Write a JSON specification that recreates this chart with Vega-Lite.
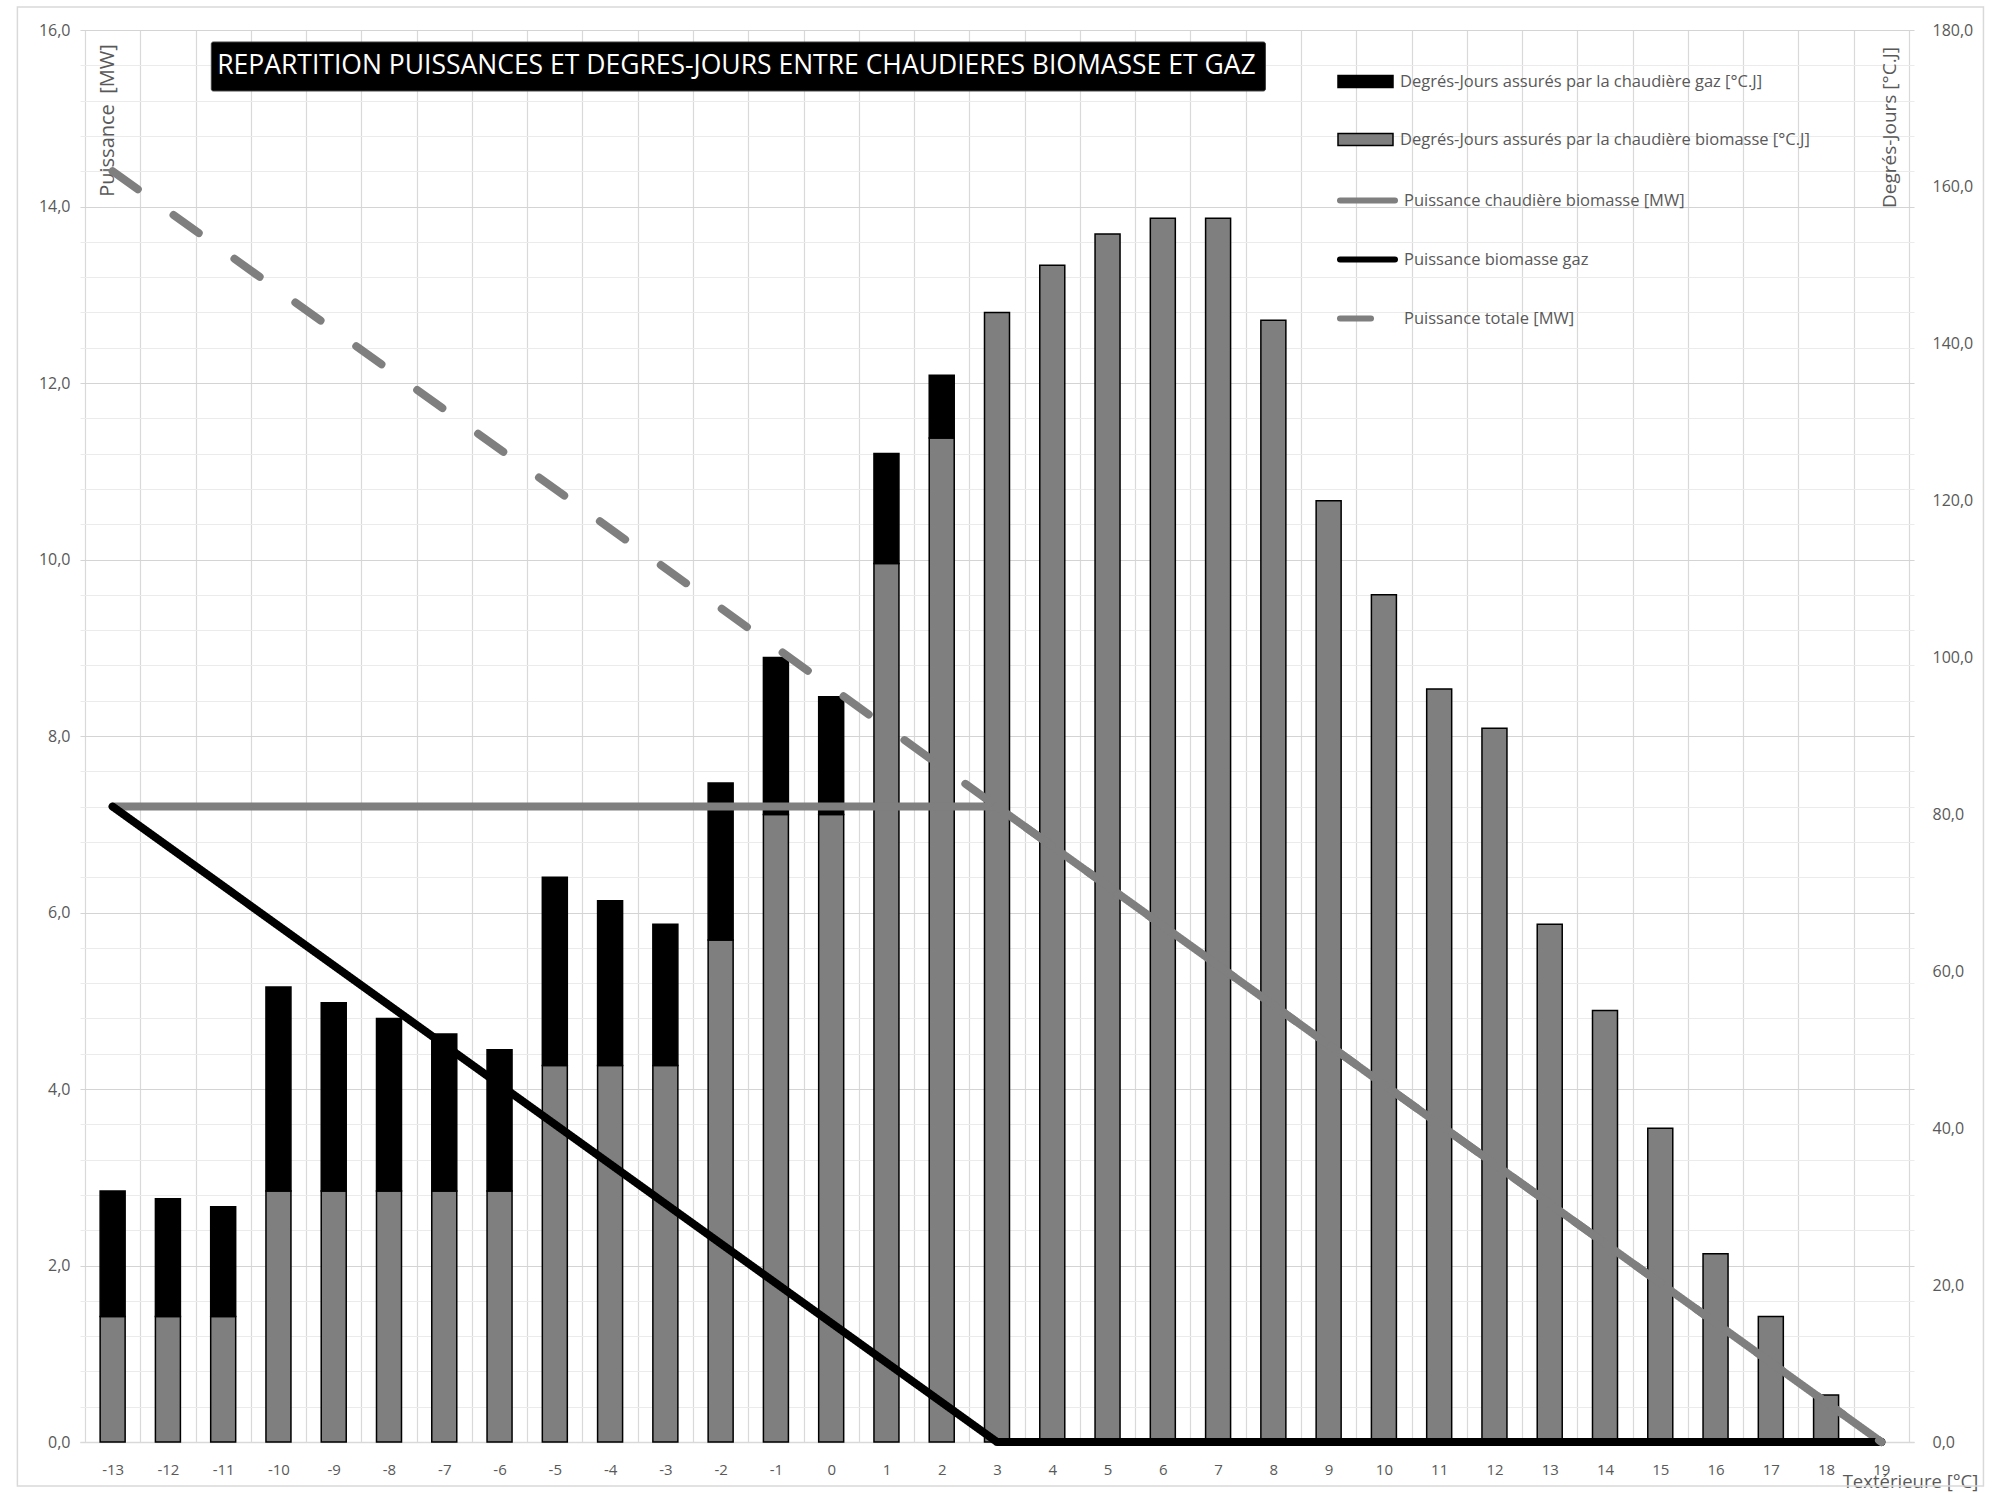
{
  "$schema": "https://vega.github.io/schema/vega-lite/v6.json",
  "width": 1834,
  "height": 1412,
  "autosize": {"type": "none"},
  "padding": {"left": 80, "top": 30, "right": 78, "bottom": 51},
  "background": "white",
  "config": {
    "view": {"stroke": null},
    "font": "Open Sans",
    "axis": {"labelFont": "Open Sans", "titleFont": "Open Sans", "labelColor": "#595959", "titleColor": "#595959", "titleFontWeight": "normal"},
    "legend": {"labelFont": "Open Sans"}
  },
  "datasets": {
    "barres": [
      {"t": -13, "serie": "Degrés-Jours assurés par la chaudière biomasse [°C.J]", "dj": 16},
      {"t": -13, "serie": "Degrés-Jours assurés par la chaudière gaz [°C.J]", "dj": 16},
      {"t": -12, "serie": "Degrés-Jours assurés par la chaudière biomasse [°C.J]", "dj": 16},
      {"t": -12, "serie": "Degrés-Jours assurés par la chaudière gaz [°C.J]", "dj": 15},
      {"t": -11, "serie": "Degrés-Jours assurés par la chaudière biomasse [°C.J]", "dj": 16},
      {"t": -11, "serie": "Degrés-Jours assurés par la chaudière gaz [°C.J]", "dj": 14},
      {"t": -10, "serie": "Degrés-Jours assurés par la chaudière biomasse [°C.J]", "dj": 32},
      {"t": -10, "serie": "Degrés-Jours assurés par la chaudière gaz [°C.J]", "dj": 26},
      {"t": -9, "serie": "Degrés-Jours assurés par la chaudière biomasse [°C.J]", "dj": 32},
      {"t": -9, "serie": "Degrés-Jours assurés par la chaudière gaz [°C.J]", "dj": 24},
      {"t": -8, "serie": "Degrés-Jours assurés par la chaudière biomasse [°C.J]", "dj": 32},
      {"t": -8, "serie": "Degrés-Jours assurés par la chaudière gaz [°C.J]", "dj": 22},
      {"t": -7, "serie": "Degrés-Jours assurés par la chaudière biomasse [°C.J]", "dj": 32},
      {"t": -7, "serie": "Degrés-Jours assurés par la chaudière gaz [°C.J]", "dj": 20},
      {"t": -6, "serie": "Degrés-Jours assurés par la chaudière biomasse [°C.J]", "dj": 32},
      {"t": -6, "serie": "Degrés-Jours assurés par la chaudière gaz [°C.J]", "dj": 18},
      {"t": -5, "serie": "Degrés-Jours assurés par la chaudière biomasse [°C.J]", "dj": 48},
      {"t": -5, "serie": "Degrés-Jours assurés par la chaudière gaz [°C.J]", "dj": 24},
      {"t": -4, "serie": "Degrés-Jours assurés par la chaudière biomasse [°C.J]", "dj": 48},
      {"t": -4, "serie": "Degrés-Jours assurés par la chaudière gaz [°C.J]", "dj": 21},
      {"t": -3, "serie": "Degrés-Jours assurés par la chaudière biomasse [°C.J]", "dj": 48},
      {"t": -3, "serie": "Degrés-Jours assurés par la chaudière gaz [°C.J]", "dj": 18},
      {"t": -2, "serie": "Degrés-Jours assurés par la chaudière biomasse [°C.J]", "dj": 64},
      {"t": -2, "serie": "Degrés-Jours assurés par la chaudière gaz [°C.J]", "dj": 20},
      {"t": -1, "serie": "Degrés-Jours assurés par la chaudière biomasse [°C.J]", "dj": 80},
      {"t": -1, "serie": "Degrés-Jours assurés par la chaudière gaz [°C.J]", "dj": 20},
      {"t": 0, "serie": "Degrés-Jours assurés par la chaudière biomasse [°C.J]", "dj": 80},
      {"t": 0, "serie": "Degrés-Jours assurés par la chaudière gaz [°C.J]", "dj": 15},
      {"t": 1, "serie": "Degrés-Jours assurés par la chaudière biomasse [°C.J]", "dj": 112},
      {"t": 1, "serie": "Degrés-Jours assurés par la chaudière gaz [°C.J]", "dj": 14},
      {"t": 2, "serie": "Degrés-Jours assurés par la chaudière biomasse [°C.J]", "dj": 128},
      {"t": 2, "serie": "Degrés-Jours assurés par la chaudière gaz [°C.J]", "dj": 8},
      {"t": 3, "serie": "Degrés-Jours assurés par la chaudière biomasse [°C.J]", "dj": 144},
      {"t": 4, "serie": "Degrés-Jours assurés par la chaudière biomasse [°C.J]", "dj": 150},
      {"t": 5, "serie": "Degrés-Jours assurés par la chaudière biomasse [°C.J]", "dj": 154},
      {"t": 6, "serie": "Degrés-Jours assurés par la chaudière biomasse [°C.J]", "dj": 156},
      {"t": 7, "serie": "Degrés-Jours assurés par la chaudière biomasse [°C.J]", "dj": 156},
      {"t": 8, "serie": "Degrés-Jours assurés par la chaudière biomasse [°C.J]", "dj": 143},
      {"t": 9, "serie": "Degrés-Jours assurés par la chaudière biomasse [°C.J]", "dj": 120},
      {"t": 10, "serie": "Degrés-Jours assurés par la chaudière biomasse [°C.J]", "dj": 108},
      {"t": 11, "serie": "Degrés-Jours assurés par la chaudière biomasse [°C.J]", "dj": 96},
      {"t": 12, "serie": "Degrés-Jours assurés par la chaudière biomasse [°C.J]", "dj": 91},
      {"t": 13, "serie": "Degrés-Jours assurés par la chaudière biomasse [°C.J]", "dj": 66},
      {"t": 14, "serie": "Degrés-Jours assurés par la chaudière biomasse [°C.J]", "dj": 55},
      {"t": 15, "serie": "Degrés-Jours assurés par la chaudière biomasse [°C.J]", "dj": 40},
      {"t": 16, "serie": "Degrés-Jours assurés par la chaudière biomasse [°C.J]", "dj": 24},
      {"t": 17, "serie": "Degrés-Jours assurés par la chaudière biomasse [°C.J]", "dj": 16},
      {"t": 18, "serie": "Degrés-Jours assurés par la chaudière biomasse [°C.J]", "dj": 6}
    ],
    "lignes": [
      {"t": -13, "serie": "Puissance chaudière biomasse [MW]", "p": 7.2},
      {"t": 3, "serie": "Puissance chaudière biomasse [MW]", "p": 7.2},
      {"t": 19, "serie": "Puissance chaudière biomasse [MW]", "p": 0},
      {"t": -13, "serie": "Puissance biomasse gaz", "p": 7.2},
      {"t": 3, "serie": "Puissance biomasse gaz", "p": 0},
      {"t": 19, "serie": "Puissance biomasse gaz", "p": 0},
      {"t": -13, "serie": "Puissance totale [MW]", "p": 14.4},
      {"t": 19, "serie": "Puissance totale [MW]", "p": 0}
    ]
  },
  "layer": [
    {
      "data": {"name": "barres"},
      "mark": {"type": "bar", "size": 25, "stroke": "#000000", "strokeWidth": 1.5},
      "encoding": {
        "x": {
          "field": "t", "type": "quantitative",
          "scale": {"domain": [-13.5, 19.5], "nice": false, "zero": false},
          "axis": {
            "values": [-13.5,-13,-12.5,-12,-11.5,-11,-10.5,-10,-9.5,-9,-8.5,-8,-7.5,-7,-6.5,-6,-5.5,-5,-4.5,-4,-3.5,-3,-2.5,-2,-1.5,-1,-0.5,0,0.5,1,1.5,2,2.5,3,3.5,4,4.5,5,5.5,6,6.5,7,7.5,8,8.5,9,9.5,10,10.5,11,11.5,12,12.5,13,13.5,14,14.5,15,15.5,16,16.5,17,17.5,18,18.5,19,19.5],
            "labelExpr": "datum.value % 1 === 0 ? '' + datum.value : ''",
            "grid": true, "gridColor": "#d9d9d9", "gridWidth": 1.2,
            "gridOpacity": {"condition": {"test": "datum.value % 1 === 0", "value": 0}, "value": 1},
            "ticks": false, "domain": true, "domainColor": "#d9d9d9", "domainWidth": 1.5,
            "labelFontSize": 15, "labelPadding": 20, "labelFlush": false, "labelOverlap": false,
            "title": "Textérieure [°C]", "titleFontSize": 18.5, "titleX": 1830, "titleY": 39,
            "titleAlign": "center", "titleBaseline": "middle"
          }
        },
        "y": {
          "field": "dj", "type": "quantitative", "stack": "zero",
          "scale": {"domain": [0, 180], "nice": false},
          "axis": {
            "orient": "right",
            "values": [0, 20, 40, 60, 80, 100, 120, 140, 160, 180],
            "labelExpr": "replace(format(datum.value, '.1f'), '.', ',')",
            "grid": false, "ticks": false, "domain": false,
            "labelFontSize": 16, "labelPadding": 18, "labelAlign": "left",
            "title": "Degrés-Jours [°C.J]", "titleFontSize": 19, "titleAngle": -90,
            "titleX": -25, "titleY": 97, "titleAlign": "center", "titleBaseline": "middle"
          }
        },
        "fill": {
          "field": "serie", "type": "nominal",
          "scale": {
            "domain": ["Degrés-Jours assurés par la chaudière gaz [°C.J]", "Degrés-Jours assurés par la chaudière biomasse [°C.J]"],
            "range": ["#000000", "#7f7f7f"]
          },
          "legend": {
            "orient": "none", "legendX": 1257, "legendY": 23, "title": null, "padding": 0,
            "symbolType": "M-1,-0.22H1V0.22H-1Z", "symbolSize": 3025,
            "symbolStrokeColor": "#000000", "symbolStrokeWidth": 1.5, "symbolOpacity": 1,
            "labelFontSize": 16.5, "labelColor": "#595959", "labelOffset": 6, "rowPadding": 20, "labelLimit": 600
          }
        },
        "order": {"field": "serie", "sort": "ascending"}
      }
    },
    {
      "layer": [
        {
          "data": {"values": [{}]},
          "mark": {"type": "rect", "fill": null, "fillOpacity": 0, "stroke": "#d9d9d9", "strokeWidth": 1.5},
          "encoding": {
            "x": {
              "datum": -14.723, "type": "quantitative",
              "scale": {"domain": [-13.5, 19.5], "nice": false, "zero": false},
              "axis": {
                "values": [-13.5,-13,-12.5,-12,-11.5,-11,-10.5,-10,-9.5,-9,-8.5,-8,-7.5,-7,-6.5,-6,-5.5,-5,-4.5,-4,-3.5,-3,-2.5,-2,-1.5,-1,-0.5,0,0.5,1,1.5,2,2.5,3,3.5,4,4.5,5,5.5,6,6.5,7,7.5,8,8.5,9,9.5,10,10.5,11,11.5,12,12.5,13,13.5,14,14.5,15,15.5,16,16.5,17,17.5,18,18.5,19,19.5],
                "labelExpr": "datum.value % 1 === 0 ? '' + datum.value : ''",
                "grid": true, "gridColor": "#d9d9d9", "gridWidth": 1.2,
                "gridOpacity": {"condition": {"test": "datum.value % 1 === 0", "value": 0}, "value": 1},
                "ticks": false, "domain": true, "domainColor": "#d9d9d9", "domainWidth": 1.5,
                "labelFontSize": 15, "labelPadding": 20, "labelFlush": false, "labelOverlap": false,
                "title": "Textérieure [°C]", "titleFontSize": 18.5, "titleX": 1830, "titleY": 39,
                "titleAlign": "center", "titleBaseline": "middle"
              }
            },
            "x2": {"datum": 20.847},
            "y": {
              "datum": 16.26, "type": "quantitative",
              "scale": {"domain": [0, 16], "nice": false},
              "axis": {
                "orient": "left",
                "values": [0,0.4,0.8,1.2,1.6,2,2.4,2.8,3.2,3.6,4,4.4,4.8,5.2,5.6,6,6.4,6.8,7.2,7.6,8,8.4,8.8,9.2,9.6,10,10.4,10.8,11.2,11.6,12,12.4,12.8,13.2,13.6,14,14.4,14.8,15.2,15.6,16],
                "labelExpr": "abs(datum.value/2 - round(datum.value/2)) < 0.001 ? replace(format(datum.value, '.1f'), '.', ',') : ''",
                "grid": true,
                "gridColor": {"condition": {"test": "abs(datum.value/2 - round(datum.value/2)) < 0.001", "value": "#d4d4d4"}, "value": "#ebebeb"},
                "gridWidth": 1.2, "ticks": false, "domain": false,
                "labelFontSize": 16, "labelPadding": 10, "labelOverlap": false, "labelFlush": false,
                "title": "Puissance\u00a0 [MW]", "titleFontSize": 20, "titleAngle": -90,
                "titleX": 27, "titleY": 90, "titleAlign": "center", "titleBaseline": "middle"
              }
            },
            "y2": {"datum": -0.499}
          }
        },
        {
          "data": {"values": [{}]},
          "mark": {"type": "rect", "fill": "#000000", "stroke": "#404040", "strokeWidth": 1, "cornerRadius": 2},
          "encoding": {
            "x": {
              "datum": -11.215, "type": "quantitative",
              "scale": {"domain": [-13.5, 19.5], "nice": false, "zero": false},
              "axis": {
                "values": [-13.5,-13,-12.5,-12,-11.5,-11,-10.5,-10,-9.5,-9,-8.5,-8,-7.5,-7,-6.5,-6,-5.5,-5,-4.5,-4,-3.5,-3,-2.5,-2,-1.5,-1,-0.5,0,0.5,1,1.5,2,2.5,3,3.5,4,4.5,5,5.5,6,6.5,7,7.5,8,8.5,9,9.5,10,10.5,11,11.5,12,12.5,13,13.5,14,14.5,15,15.5,16,16.5,17,17.5,18,18.5,19,19.5],
                "labelExpr": "datum.value % 1 === 0 ? '' + datum.value : ''",
                "grid": true, "gridColor": "#d9d9d9", "gridWidth": 1.2,
                "gridOpacity": {"condition": {"test": "datum.value % 1 === 0", "value": 0}, "value": 1},
                "ticks": false, "domain": true, "domainColor": "#d9d9d9", "domainWidth": 1.5,
                "labelFontSize": 15, "labelPadding": 20, "labelFlush": false, "labelOverlap": false,
                "title": "Textérieure [°C]", "titleFontSize": 18.5, "titleX": 1830, "titleY": 39,
                "titleAlign": "center", "titleBaseline": "middle"
              }
            },
            "x2": {"datum": 7.857},
            "y": {
              "datum": 15.864, "type": "quantitative",
              "scale": {"domain": [0, 16], "nice": false},
              "axis": {
                "orient": "left",
                "values": [0,0.4,0.8,1.2,1.6,2,2.4,2.8,3.2,3.6,4,4.4,4.8,5.2,5.6,6,6.4,6.8,7.2,7.6,8,8.4,8.8,9.2,9.6,10,10.4,10.8,11.2,11.6,12,12.4,12.8,13.2,13.6,14,14.4,14.8,15.2,15.6,16],
                "labelExpr": "abs(datum.value/2 - round(datum.value/2)) < 0.001 ? replace(format(datum.value, '.1f'), '.', ',') : ''",
                "grid": true,
                "gridColor": {"condition": {"test": "abs(datum.value/2 - round(datum.value/2)) < 0.001", "value": "#d4d4d4"}, "value": "#ebebeb"},
                "gridWidth": 1.2, "ticks": false, "domain": false,
                "labelFontSize": 16, "labelPadding": 10, "labelOverlap": false, "labelFlush": false,
                "title": "Puissance\u00a0 [MW]", "titleFontSize": 20, "titleAngle": -90,
                "titleX": 27, "titleY": 90, "titleAlign": "center", "titleBaseline": "middle"
              }
            },
            "y2": {"datum": 15.309}
          }
        },
        {
          "data": {"values": [{}]},
          "mark": {"type": "text", "text": "REPARTITION PUISSANCES ET DEGRES-JOURS ENTRE CHAUDIERES BIOMASSE ET GAZ", "color": "#ffffff", "font": "Open Sans", "fontSize": 26.5, "align": "center", "baseline": "middle"},
          "encoding": {
            "x": {
              "datum": -1.715, "type": "quantitative",
              "scale": {"domain": [-13.5, 19.5], "nice": false, "zero": false},
              "axis": {
                "values": [-13.5,-13,-12.5,-12,-11.5,-11,-10.5,-10,-9.5,-9,-8.5,-8,-7.5,-7,-6.5,-6,-5.5,-5,-4.5,-4,-3.5,-3,-2.5,-2,-1.5,-1,-0.5,0,0.5,1,1.5,2,2.5,3,3.5,4,4.5,5,5.5,6,6.5,7,7.5,8,8.5,9,9.5,10,10.5,11,11.5,12,12.5,13,13.5,14,14.5,15,15.5,16,16.5,17,17.5,18,18.5,19,19.5],
                "labelExpr": "datum.value % 1 === 0 ? '' + datum.value : ''",
                "grid": true, "gridColor": "#d9d9d9", "gridWidth": 1.2,
                "gridOpacity": {"condition": {"test": "datum.value % 1 === 0", "value": 0}, "value": 1},
                "ticks": false, "domain": true, "domainColor": "#d9d9d9", "domainWidth": 1.5,
                "labelFontSize": 15, "labelPadding": 20, "labelFlush": false, "labelOverlap": false,
                "title": "Textérieure [°C]", "titleFontSize": 18.5, "titleX": 1830, "titleY": 39,
                "titleAlign": "center", "titleBaseline": "middle"
              }
            },
            "y": {
              "datum": 15.587, "type": "quantitative",
              "scale": {"domain": [0, 16], "nice": false},
              "axis": {
                "orient": "left",
                "values": [0,0.4,0.8,1.2,1.6,2,2.4,2.8,3.2,3.6,4,4.4,4.8,5.2,5.6,6,6.4,6.8,7.2,7.6,8,8.4,8.8,9.2,9.6,10,10.4,10.8,11.2,11.6,12,12.4,12.8,13.2,13.6,14,14.4,14.8,15.2,15.6,16],
                "labelExpr": "abs(datum.value/2 - round(datum.value/2)) < 0.001 ? replace(format(datum.value, '.1f'), '.', ',') : ''",
                "grid": true,
                "gridColor": {"condition": {"test": "abs(datum.value/2 - round(datum.value/2)) < 0.001", "value": "#d4d4d4"}, "value": "#ebebeb"},
                "gridWidth": 1.2, "ticks": false, "domain": false,
                "labelFontSize": 16, "labelPadding": 10, "labelOverlap": false, "labelFlush": false,
                "title": "Puissance\u00a0 [MW]", "titleFontSize": 20, "titleAngle": -90,
                "titleX": 27, "titleY": 90, "titleAlign": "center", "titleBaseline": "middle"
              }
            }
          }
        },
        {
          "data": {"name": "lignes"},
          "encoding": {
            "x": {
              "field": "t", "type": "quantitative",
              "scale": {"domain": [-13.5, 19.5], "nice": false, "zero": false},
              "axis": {
                "values": [-13.5,-13,-12.5,-12,-11.5,-11,-10.5,-10,-9.5,-9,-8.5,-8,-7.5,-7,-6.5,-6,-5.5,-5,-4.5,-4,-3.5,-3,-2.5,-2,-1.5,-1,-0.5,0,0.5,1,1.5,2,2.5,3,3.5,4,4.5,5,5.5,6,6.5,7,7.5,8,8.5,9,9.5,10,10.5,11,11.5,12,12.5,13,13.5,14,14.5,15,15.5,16,16.5,17,17.5,18,18.5,19,19.5],
                "labelExpr": "datum.value % 1 === 0 ? '' + datum.value : ''",
                "grid": true, "gridColor": "#d9d9d9", "gridWidth": 1.2,
                "gridOpacity": {"condition": {"test": "datum.value % 1 === 0", "value": 0}, "value": 1},
                "ticks": false, "domain": true, "domainColor": "#d9d9d9", "domainWidth": 1.5,
                "labelFontSize": 15, "labelPadding": 20, "labelFlush": false, "labelOverlap": false,
                "title": "Textérieure [°C]", "titleFontSize": 18.5, "titleX": 1830, "titleY": 39,
                "titleAlign": "center", "titleBaseline": "middle"
              }
            },
            "y": {
              "field": "p", "type": "quantitative",
              "scale": {"domain": [0, 16], "nice": false},
              "axis": {
                "orient": "left",
                "values": [0,0.4,0.8,1.2,1.6,2,2.4,2.8,3.2,3.6,4,4.4,4.8,5.2,5.6,6,6.4,6.8,7.2,7.6,8,8.4,8.8,9.2,9.6,10,10.4,10.8,11.2,11.6,12,12.4,12.8,13.2,13.6,14,14.4,14.8,15.2,15.6,16],
                "labelExpr": "abs(datum.value/2 - round(datum.value/2)) < 0.001 ? replace(format(datum.value, '.1f'), '.', ',') : ''",
                "grid": true,
                "gridColor": {"condition": {"test": "abs(datum.value/2 - round(datum.value/2)) < 0.001", "value": "#d4d4d4"}, "value": "#ebebeb"},
                "gridWidth": 1.2, "ticks": false, "domain": false,
                "labelFontSize": 16, "labelPadding": 10, "labelOverlap": false, "labelFlush": false,
                "title": "Puissance\u00a0 [MW]", "titleFontSize": 20, "titleAngle": -90,
                "titleX": 27, "titleY": 90, "titleAlign": "center", "titleBaseline": "middle"
              }
            },
            "stroke": {
              "field": "serie", "type": "nominal",
              "scale": {
                "domain": ["Puissance chaudière biomasse [MW]", "Puissance biomasse gaz", "Puissance totale [MW]"],
                "range": ["#7f7f7f", "#000000", "#7f7f7f"]
              },
              "legend": {
                "orient": "none", "legendX": 1257, "legendY": 140, "title": null, "padding": 0,
                "symbolType": "stroke", "symbolSize": 3025, "symbolStrokeWidth": 6,
                "labelFontSize": 16.5, "labelColor": "#595959", "labelOffset": 6, "rowPadding": 16, "labelLimit": 600,
                "encode": {"symbols": {"update": {"strokeCap": {"value": "round"}}}}
              }
            },
            "strokeDash": {
              "field": "serie", "type": "nominal",
              "scale": {
                "domain": ["Puissance chaudière biomasse [MW]", "Puissance biomasse gaz", "Puissance totale [MW]"],
                "range": [[1, 0], [1, 0], [31, 44]]
              },
              "legend": {
                "orient": "none", "legendX": 1257, "legendY": 140, "title": null, "padding": 0,
                "symbolType": "stroke", "symbolSize": 3025, "symbolStrokeWidth": 6,
                "labelFontSize": 16.5, "labelColor": "#595959", "labelOffset": 6, "rowPadding": 16, "labelLimit": 600,
                "encode": {"symbols": {"update": {"strokeCap": {"value": "round"}}}}
              }
            }
          },
          "layer": [
            {
              "transform": [{"filter": "datum.serie === 'Puissance chaudière biomasse [MW]'"}],
              "mark": {"type": "line", "strokeWidth": 8, "strokeCap": "round", "strokeJoin": "round"}
            },
            {
              "transform": [{"filter": "datum.serie === 'Puissance biomasse gaz'"}],
              "mark": {"type": "line", "strokeWidth": 8, "strokeCap": "round", "strokeJoin": "round"}
            },
            {
              "transform": [{"filter": "datum.serie === 'Puissance totale [MW]'"}],
              "mark": {"type": "line", "strokeWidth": 8, "strokeCap": "round", "strokeJoin": "round"}
            }
          ]
        }
      ]
    }
  ],
  "resolve": {"scale": {"y": "independent"}}
}
